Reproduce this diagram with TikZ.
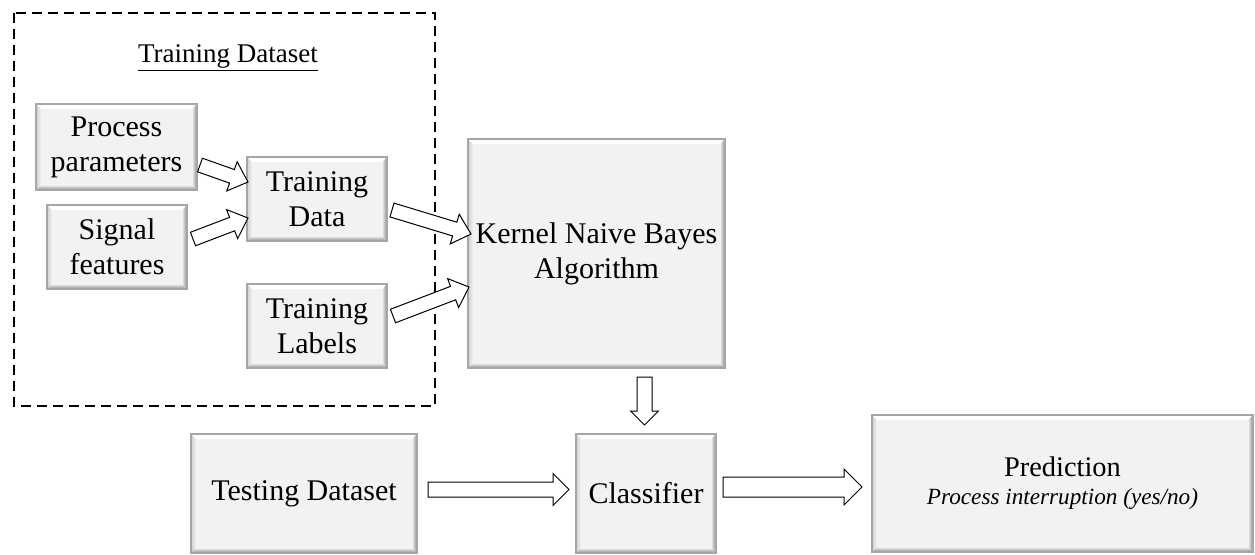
\documentclass[tikz,border=0pt]{standalone}
\usepackage{fontspec}
\setmainfont{Liberation Serif}
\usetikzlibrary{calc}
\definecolor{boxfill}{HTML}{F2F2F2}
\definecolor{boxedge}{HTML}{A6A6A6}
\definecolor{bevdark}{HTML}{8A8A8A}
\definecolor{bevmid}{HTML}{CFCFCF}
\tikzset{
  bx/.style={draw=boxedge, line width=0.6pt, fill=boxfill, inner sep=0pt, align=center,
    anchor=center, font=\fontsize{15}{17.5}\selectfont,
    path picture={
      \coordinate (bnw) at (path picture bounding box.north west);
      \coordinate (bne) at (path picture bounding box.north east);
      \coordinate (bsw) at (path picture bounding box.south west);
      \coordinate (bse) at (path picture bounding box.south east);
      \fill[white] (bnw) -- (bne) -- ($(bne)+(-2.5pt,-2.5pt)$) -- ($(bnw)+(2.5pt,-2.5pt)$) -- cycle;
      \shade[left color=bevmid, right color=boxfill] (bnw) -- ($(bnw)+(2.5pt,-2.5pt)$) -- ($(bsw)+(2.5pt,2.5pt)$) -- (bsw) -- cycle;
      \shade[left color=boxfill, right color=bevdark] (bne) -- ($(bne)+(-2.5pt,-2.5pt)$) -- ($(bse)+(-2.5pt,2.5pt)$) -- (bse) -- cycle;
      \shade[top color=boxfill, bottom color=bevdark] (bsw) -- ($(bsw)+(2.5pt,2.5pt)$) -- ($(bse)+(-2.5pt,2.5pt)$) -- (bse) -- cycle;
    }},
  arr/.style={draw=black, line width=0.5pt, fill=white, line join=miter},
  grp/.style={draw=black, line width=0.6pt, dash pattern=on 5pt off 3pt},
}
% #1 shaft half width, #2 head half width, #3 head length, #4 from, #5 to
\newcommand\blockarrow[5]{%
  \coordinate (ba-c) at ($(#5)!#3!(#4)$);
  \draw[arr] ($(#4)!#1!90:(#5)$) -- ($(ba-c)!#1!90:(#5)$) -- ($(ba-c)!#2!90:(#5)$) -- (#5)
    -- ($(ba-c)!#2!-90:(#5)$) -- ($(ba-c)!#1!-90:(#5)$) -- ($(#4)!#1!-90:(#5)$) -- cycle;}
\begin{document}
\begin{tikzpicture}[x=0.5pt, y=-0.5pt]
\useasboundingbox (0,0) rectangle (1255,554);
% group frame
\draw[grp] (14,13) rectangle (435,406);
\node[anchor=base, font=\fontsize{13.5}{16}\selectfont] (title) at (228,62) {\underline{Training Dataset}};
% boxes (sizes in pt = half the pixel sizes)
\node[bx, minimum width=80.5pt, minimum height=43pt] (pp) at (116.5,147) {Process\\parameters};
\node[bx, minimum width=70pt, minimum height=42pt] (sf) at (117,247) {Signal\\features};
\node[bx, minimum width=70pt, minimum height=42pt] (td) at (317,199) {Training\\Data};
\node[bx, minimum width=70pt, minimum height=42pt] (tl) at (317,326) {Training\\Labels};
\node[bx, minimum width=128.5pt, minimum height=114.5pt] (knb) at (596.5,253.5) {Kernel Naive Bayes\\Algorithm};
\node[bx, minimum width=113pt, minimum height=59.5pt] (test) at (304,493.5) {Testing Dataset};
\node[bx, minimum width=70pt, minimum height=59.5pt] (cls) at (646,493.5) {Classifier};
\node[bx, minimum width=190.5pt, minimum height=68.5pt, font=\fontsize{14.2}{14}\selectfont] (pred) at (1062.5,483.5)
  {Prediction\\{\fontsize{11.6}{14}\selectfont\itshape Process interruption (yes/no)}};
% arrow end points
\coordinate (a1s) at (200,165);   \coordinate (a1e) at (248,182);
\coordinate (a2s) at (193,239);   \coordinate (a2e) at (248,218);
\coordinate (a3s) at (392,210);   \coordinate (a3e) at (471,234);
\coordinate (a4s) at (393,316);   \coordinate (a4e) at (469,287);
\coordinate (a5s) at (644.5,377); \coordinate (a5e) at (644.5,425);
\coordinate (a6s) at (428,489.5); \coordinate (a6e) at (569,489.5);
\coordinate (a7s) at (723,487);   \coordinate (a7e) at (862,487);
% arrows
\blockarrow{3.6pt}{7.75pt}{8.5pt}{a1s}{a1e}
\blockarrow{3.6pt}{7.75pt}{8.5pt}{a2s}{a2e}
\blockarrow{3.6pt}{7.75pt}{8.5pt}{a3s}{a3e}
\blockarrow{3.6pt}{7.75pt}{8.5pt}{a4s}{a4e}
\blockarrow{3.75pt}{7pt}{7pt}{a5s}{a5e}
\blockarrow{3.75pt}{8pt}{8pt}{a6s}{a6e}
\blockarrow{5pt}{9pt}{9pt}{a7s}{a7e}
\end{tikzpicture}
\end{document}
